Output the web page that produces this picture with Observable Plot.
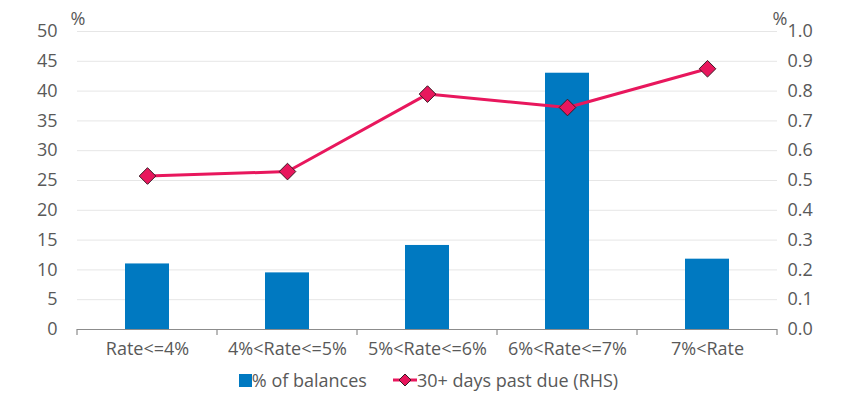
<!DOCTYPE html>
<html>
<head>
<meta charset="utf-8">
<script src="https://cdn.jsdelivr.net/npm/d3@7"></script>
<script src="https://cdn.jsdelivr.net/npm/@observablehq/plot@0.6"></script>
<style>
  body { margin: 0; background: #fff; font-family: "Open Sans", sans-serif; }
  #chart { width: 853px; }
  .legend { display: flex; justify-content: center; align-items: center; font-size: 18px; color: #595959; height: 30px; margin-left: 4px; }
  .legend .item { display: flex; align-items: center; margin: 0 13px; }
  .legend svg { display: block; }
</style>
</head>
<body>
<div id="chart"></div>
<script>
const categories = ["Rate<=4%", "4%<Rate<=5%", "5%<Rate<=6%", "6%<Rate<=7%", "7%<Rate"];
const balances = [11, 9.5, 14.1, 43, 11.8];          // % of balances (LHS)
const pastDue = [0.515, 0.53, 0.79, 0.745, 0.875];   // 30+ days past due (RHS)
const leftTicks = [0, 5, 10, 15, 20, 25, 30, 35, 40, 45, 50];
const rightTickLabels = ["0.0","0.1","0.2","0.3","0.4","0.5","0.6","0.7","0.8","0.9","1.0"];
const seriesNames = ["% of balances", "30+ days past due (RHS)"];

const lhsMax = 50, rhsMax = 1.0;
const ratio = lhsMax / rhsMax;

const barColor = "#0079c1";
const lineColor = "#e8175d";
const textColor = "#595959";
const fs = 18;

const barData = categories.map((c, i) => ({cat: c, v: balances[i]}));
const lineData = categories.map((c, i) => ({cat: c, v: pastDue[i] * ratio}));

const chart = Plot.plot({
  width: 853,
  height: 365,
  marginLeft: 77,
  marginRight: 76,
  marginTop: 31,
  marginBottom: 36,
  style: {fontFamily: "Open Sans, sans-serif", fontSize: fs + "px", color: textColor, background: "#fff"},
  x: {domain: categories, paddingInner: 0.686, paddingOuter: 0.343, axis: null},
  y: {domain: [0, lhsMax], axis: null},
  marks: [
    Plot.gridY(leftTicks.filter(d => d > 0), {stroke: "#e6e6e6", strokeOpacity: 1}),
    Plot.axisY(leftTicks, {anchor: "left", tickSize: 0, tickPadding: 20, label: null, fill: textColor, fontSize: fs}),
    Plot.axisY(leftTicks, {anchor: "right", tickSize: 0, tickPadding: 10, label: null, fill: textColor, fontSize: fs,
      tickFormat: (d) => rightTickLabels[leftTicks.indexOf(d)]}),
    Plot.text(["%"], {frameAnchor: "top-left", dx: 8, dy: -19, textAnchor: "end", fill: textColor, fontSize: fs}),
    Plot.text(["%"], {frameAnchor: "top-right", dx: 10, dy: -19, textAnchor: "end", fill: textColor, fontSize: fs}),
    Plot.barY(barData, {x: "cat", y: "v", fill: barColor}),
    Plot.ruleY([0], {stroke: "#8c8c8c", strokeWidth: 1.2}),
    Plot.axisX(categories, {anchor: "bottom", tickSize: 0, tickPadding: 13, label: null, fill: textColor, fontSize: fs}),
    Plot.line(lineData, {x: "cat", y: "v", stroke: lineColor, strokeWidth: 3}),
    Plot.dot(lineData, {x: "cat", y: "v", symbol: "diamond2", r: 7.5, fill: lineColor, stroke: "#3a1a24", strokeWidth: 1})
  ]
});

document.getElementById("chart").appendChild(chart);

// Category boundary ticks below the baseline, positioned with Plot's own x scale
const xs = chart.scale("x");
const ys = chart.scale("y");
const xScale = d3.scaleBand().domain(xs.domain).range(xs.range).paddingInner(xs.paddingInner ?? 0.686).paddingOuter(xs.paddingOuter ?? 0.343);
const step = xScale.step(), bw = xScale.bandwidth();
const bounds = categories.map(c => xScale(c) - (step - bw) / 2);
bounds.push(xScale(categories[categories.length - 1]) + bw + (step - bw) / 2);
const y0 = d3.scaleLinear().domain(ys.domain).range(ys.range)(0);
d3.select(chart).append("g")
  .selectAll("line").data(bounds).join("line")
  .attr("x1", d => d).attr("x2", d => d)
  .attr("y1", y0).attr("y2", y0 + 6)
  .attr("stroke", "#8c8c8c").attr("stroke-width", 1.2);

// Legend
const legend = d3.select("body").append("div").attr("class", "legend");
const it1 = legend.append("div").attr("class", "item");
it1.append("svg").attr("width", 13).attr("height", 13).append("rect").attr("width", 13).attr("height", 13).attr("fill", barColor);
it1.append("span").text(seriesNames[0]);
const it2 = legend.append("div").attr("class", "item");
const s2 = it2.append("svg").attr("width", 24).attr("height", 16);
s2.append("line").attr("x1", 0).attr("x2", 24).attr("y1", 8).attr("y2", 8).attr("stroke", lineColor).attr("stroke-width", 3);
s2.append("path").attr("d", "M12,2 L18,8 L12,14 L6,8 Z").attr("fill", lineColor).attr("stroke", "#3a1a24").attr("stroke-width", 1);
it2.append("span").text(seriesNames[1]);
</script>
</body>
</html>
